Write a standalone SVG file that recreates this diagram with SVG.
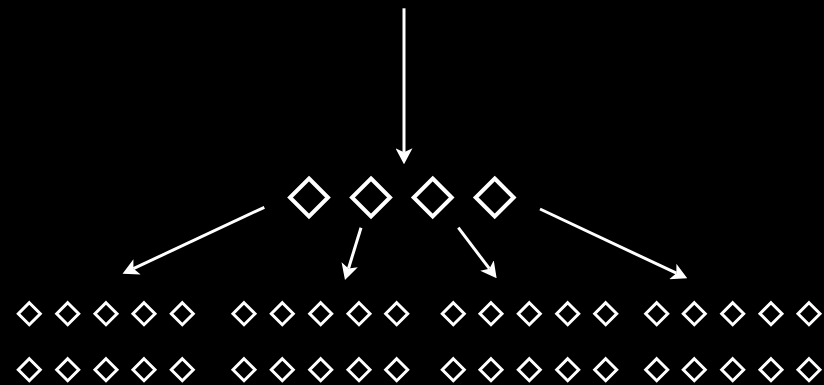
<svg xmlns="http://www.w3.org/2000/svg" width="824" height="385" viewBox="0 0 824 385">
<style>
.big{fill:none;stroke:#fff;stroke-width:4;stroke-linejoin:miter}
.sm{fill:none;stroke:#fff;stroke-width:3;stroke-linejoin:miter}
.conn line{stroke:#fff;stroke-width:3;marker-end:url(#ah)}
</style>
<defs>
<marker id="ah" viewBox="0 0 16 17" markerWidth="16" markerHeight="17" refX="4" refY="8.5" orient="auto" markerUnits="userSpaceOnUse">
<path d="M0,0 L16,8.5 L0,17 L4,8.5 z" fill="#fff"/>
</marker>
<path id="db" d="M0,-19 L19,0 L0,19 L-19,0 Z"/>
<path id="ds" d="M0,-11 L11,0 L0,11 L-11,0 Z"/>
</defs>
<rect width="824" height="385" fill="#000"/>
<g class="conn">
<line x1="404" y1="8.3" x2="404" y2="152.3"/>
<line x1="264.3" y1="207.3" x2="133.4" y2="268.6"/>
<line x1="361" y1="227.7" x2="348.5" y2="268.5"/>
<line x1="458.3" y1="227.7" x2="489.4" y2="268.7"/>
<line x1="540" y1="209" x2="676.4" y2="273.2"/>
</g>
<g id="mid">
<use href="#db" class="big" x="309" y="197.5"/>
<use href="#db" class="big" x="371" y="197.5"/>
<use href="#db" class="big" x="432.7" y="197.5"/>
<use href="#db" class="big" x="494.7" y="197.5"/>
</g>
<g id="g1">
<use href="#ds" class="sm" x="29.3" y="313.7"/><use href="#ds" class="sm" x="67.7" y="313.7"/><use href="#ds" class="sm" x="106" y="313.7"/><use href="#ds" class="sm" x="144" y="313.7"/><use href="#ds" class="sm" x="182.3" y="313.7"/>
<use href="#ds" class="sm" x="29.3" y="369.7"/><use href="#ds" class="sm" x="67.7" y="369.7"/><use href="#ds" class="sm" x="106" y="369.7"/><use href="#ds" class="sm" x="144" y="369.7"/><use href="#ds" class="sm" x="182.3" y="369.7"/>
</g>
<g id="g2">
<use href="#ds" class="sm" x="244" y="313.7"/><use href="#ds" class="sm" x="282.3" y="313.7"/><use href="#ds" class="sm" x="320.7" y="313.7"/><use href="#ds" class="sm" x="359" y="313.7"/><use href="#ds" class="sm" x="396.7" y="313.7"/>
<use href="#ds" class="sm" x="244" y="369.7"/><use href="#ds" class="sm" x="282.3" y="369.7"/><use href="#ds" class="sm" x="320.7" y="369.7"/><use href="#ds" class="sm" x="359" y="369.7"/><use href="#ds" class="sm" x="396.7" y="369.7"/>
</g>
<g id="g3">
<use href="#ds" class="sm" x="453.3" y="313.7"/><use href="#ds" class="sm" x="491" y="313.7"/><use href="#ds" class="sm" x="529.3" y="313.7"/><use href="#ds" class="sm" x="567.7" y="313.7"/><use href="#ds" class="sm" x="605.7" y="313.7"/>
<use href="#ds" class="sm" x="453.3" y="369.7"/><use href="#ds" class="sm" x="491" y="369.7"/><use href="#ds" class="sm" x="529.3" y="369.7"/><use href="#ds" class="sm" x="567.7" y="369.7"/><use href="#ds" class="sm" x="605.7" y="369.7"/>
</g>
<g id="g4">
<use href="#ds" class="sm" x="656.7" y="313.7"/><use href="#ds" class="sm" x="694.3" y="313.7"/><use href="#ds" class="sm" x="732.7" y="313.7"/><use href="#ds" class="sm" x="771" y="313.7"/><use href="#ds" class="sm" x="809" y="313.7"/>
<use href="#ds" class="sm" x="656.7" y="369.7"/><use href="#ds" class="sm" x="694.3" y="369.7"/><use href="#ds" class="sm" x="732.7" y="369.7"/><use href="#ds" class="sm" x="771" y="369.7"/><use href="#ds" class="sm" x="809" y="369.7"/>
</g>
</svg>
